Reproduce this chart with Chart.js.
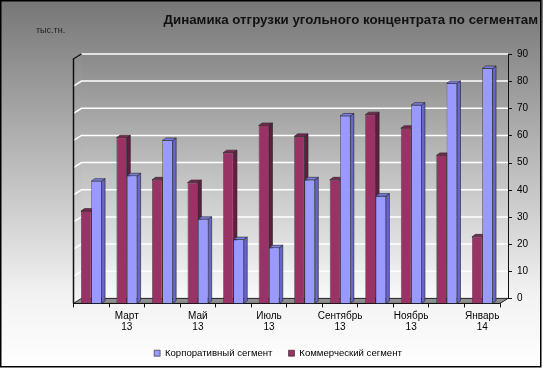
<!DOCTYPE html>
<html><head><meta charset="utf-8">
<script src="https://cdn.jsdelivr.net/npm/chart.js@4"></script>
<style>html,body{margin:0;padding:0;background:#fff}canvas{display:block}</style>
</head><body>
<canvas id="c" width="543" height="368"></canvas>
<script>
const categories = ['Февраль 13','Март 13','Апрель 13','Май 13','Июнь 13','Июль 13','Август 13','Сентябрь 13','Октябрь 13','Ноябрь 13','Декабрь 13','Январь 14'];
const tickLabels = ['', 'Март 13', '', 'Май 13', '', 'Июль 13', '', 'Сентябрь 13', '', 'Ноябрь 13', '', 'Январь 14'];
const corporate = [45, 47, 60, 31, 23.5, 20.5, 45.5, 69, 39.5, 73, 81, 86.5];
const commercial = [34, 61, 45.5, 44.5, 55.5, 65.5, 61.5, 45.5, 69.5, 64.5, 54.5, 24.5];
const seriesNames = ['Корпоративный сегмент', 'Коммерческий сегмент'];
const titleText = 'Динамика отгрузки угольного концентрата по сегментам';
const unitText = 'тыс.тн.';
const yMin = 0, yMax = 90, yStep = 10;

const FONT = "'Liberation Sans', Arial, sans-serif";
const DX = 8, DY = -5;      // wall depth offset
const BDX = 3.5, BDY = -2.5; // bar depth offset
const faceColors = {
  '#9999ff': {side: '#6666c8', top: '#7c7ce6'},
  '#993366': {side: '#5e1f40', top: '#7a2852'}
};

const scene = {
  id: 'scene',
  beforeDraw(chart) {
    const {ctx, chartArea: a, scales: {y}} = chart;
    ctx.save();
    let g = ctx.createLinearGradient(0, 0, 0, chart.height);
    g.addColorStop(0, '#767676');
    g.addColorStop(0.8, '#f2f2f2');
    g.addColorStop(1, '#ffffff');
    ctx.fillStyle = g;
    ctx.fillRect(0, 0, chart.width, chart.height);
    const bl = a.left + DX, br = a.right + DX, bt = a.top + DY, bb = a.bottom + DY;
    g = ctx.createLinearGradient(0, bt, 0, bb);
    g.addColorStop(0, '#8a8a8a');
    g.addColorStop(1, '#fafafa');
    ctx.fillStyle = g;
    ctx.fillRect(bl, bt, br - bl, bb - bt);
    // floor
    ctx.beginPath();
    ctx.moveTo(a.left, a.bottom); ctx.lineTo(a.right, a.bottom);
    ctx.lineTo(br, bb); ctx.lineTo(bl, bb); ctx.closePath();
    ctx.fillStyle = '#8e8e8e'; ctx.fill();
    ctx.strokeStyle = '#222'; ctx.lineWidth = 1; ctx.stroke();
    // gridlines
    ctx.strokeStyle = '#ffffff'; ctx.lineWidth = 1.5;
    y.ticks.forEach(t => {
      if (t.value === yMin) return;
      const py = y.getPixelForValue(t.value);
      ctx.beginPath();
      ctx.moveTo(a.left, py); ctx.lineTo(bl, py + DY); ctx.lineTo(br, py + DY);
      ctx.stroke();
    });
    // left wall edge
    ctx.strokeStyle = '#111'; ctx.lineWidth = 1.5;
    ctx.beginPath();
    ctx.moveTo(a.left, a.bottom); ctx.lineTo(a.left, a.top); ctx.lineTo(bl, bt);
    ctx.stroke();
    // right axis line + ticks
    ctx.lineWidth = 1;
    ctx.beginPath();
    ctx.moveTo(br + 0.5, bt); ctx.lineTo(br + 0.5, bb);
    y.ticks.forEach(t => {
      const py = Math.round(y.getPixelForValue(t.value) + DY) + 0.5;
      ctx.moveTo(br, py); ctx.lineTo(br + 4, py);
    });
    ctx.stroke();
    ctx.restore();
  },
  beforeDatasetsDraw(chart) {
    const ctx = chart.ctx;
    ctx.save();
    ctx.lineWidth = 0.6; ctx.strokeStyle = '#222';
    chart.data.datasets.forEach((ds, i) => {
      const meta = chart.getDatasetMeta(i);
      const fc = faceColors[ds.backgroundColor];
      meta.data.forEach(bar => {
        const {x, y, base, width} = bar.getProps(['x', 'y', 'base', 'width'], true);
        const l = x - width / 2, r = x + width / 2;
        ctx.beginPath();
        ctx.moveTo(r, y); ctx.lineTo(r + BDX, y + BDY); ctx.lineTo(r + BDX, base + BDY); ctx.lineTo(r, base);
        ctx.closePath(); ctx.fillStyle = fc.side; ctx.fill(); ctx.stroke();
        ctx.beginPath();
        ctx.moveTo(l, y); ctx.lineTo(l + BDX, y + BDY); ctx.lineTo(r + BDX, y + BDY); ctx.lineTo(r, y);
        ctx.closePath(); ctx.fillStyle = fc.top; ctx.fill(); ctx.stroke();
      });
    });
    ctx.restore();
  },
  afterDraw(chart) {
    const ctx = chart.ctx;
    ctx.save();
    ctx.fillStyle = '#222';
    ctx.font = '9px ' + FONT;
    ctx.textBaseline = 'middle';
    ctx.fillText(unitText, 36, 31);
    ctx.strokeStyle = '#000'; ctx.lineWidth = 1.5;
    ctx.strokeRect(0.75, 0.75, 540, 366);
    ctx.restore();
  }
};

new Chart(document.getElementById('c'), {
  type: 'bar',
  data: {
    labels: categories,
    datasets: [
      {label: seriesNames[1], data: commercial, yAxisID: 'y', backgroundColor: '#993366', borderColor: '#222', borderWidth: 0.6},
      {label: seriesNames[0], data: corporate, yAxisID: 'y', backgroundColor: '#9999ff', borderColor: '#222', borderWidth: 0.6}
    ]
  },
  options: {
    responsive: false,
    animation: false,
    devicePixelRatio: 1,
    layout: {padding: {left: 18, right: 5, top: 0, bottom: 0}},
    datasets: {bar: {categoryPercentage: 0.58, barPercentage: 1.0}},
    scales: {
      yl: {
        position: 'left', display: true,
        ticks: {display: false}, grid: {display: false, drawTicks: false}, border: {display: false},
        afterFit(s) { s.width = 55.5; }
      },
      x: {
        grid: {display: true, drawOnChartArea: false, drawTicks: true, tickLength: 4, color: '#111', offset: true},
        border: {display: true, color: '#111', width: 1},
        ticks: {
          autoSkip: false, maxRotation: 0, padding: 3, color: '#000',
          font: {family: FONT, size: 10, lineHeight: 1.1},
          callback: (v, i) => tickLabels[i] ? tickLabels[i].split(' ') : ''
        },
        afterFit(s) { s.height = 29; }
      },
      y: {
        position: 'right', min: yMin, max: yMax,
        ticks: {stepSize: yStep, padding: 17, labelOffset: -5, color: '#000', font: {family: FONT, size: 10}},
        grid: {display: false, drawTicks: false},
        border: {display: false},
        afterFit(s) { s.width = 38; }
      }
    },
    plugins: {
      title: {
        display: true, text: titleText, align: 'end', color: '#111',
        font: {family: FONT, size: 13.3, weight: 'bold'},
        padding: {top: 12, bottom: 31}
      },
      legend: {
        position: 'bottom', reverse: true,
        labels: {boxWidth: 6, boxHeight: 6, padding: 16, color: '#000', font: {family: FONT, size: 9.6}}
      },
      tooltip: {enabled: false}
    }
  },
  plugins: [scene]
});
</script>
</body></html>
